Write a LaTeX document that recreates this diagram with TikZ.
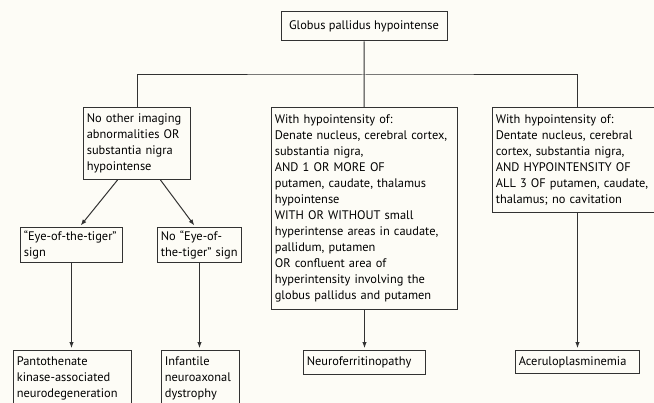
\documentclass[tikz,border=0pt]{standalone}
\usepackage{fontspec}
\setmainfont{PT Sans}
\usepackage{tikz}
\usetikzlibrary{arrows.meta}
\hyphenpenalty=10000
\exhyphenpenalty=10000
\definecolor{fondcol}{RGB}{253,252,246}
\definecolor{traitcol}{RGB}{50,50,50}
\tikzset{boite/.style={
    draw=traitcol, line width=0.75pt, anchor=north west, align=left,
    inner xsep=2.5pt, inner ysep=0pt, text=black,
    font=\fontsize{9.3}{12}\selectfont},
  lien/.style={draw=traitcol, line width=0.75pt},
  fleche/.style={lien, -{Latex[length=4.5pt,width=3.4pt]}, shorten >=1.5pt}}

\begin{document}
\begin{tikzpicture}[x=0.75pt,y=-0.75pt]
  % fond
\fill[fondcol] (0,0) rectangle (654,403);
\useasboundingbox (0,0) rectangle (654,403);

  % boites
\node[boite, anchor=center, align=center, minimum width=124.5pt, minimum height=21.75pt] (gp) at (364,26.5) {Globus pallidus hypointense};
\node[boite, text width=75.25pt, minimum height=54pt] (sn) at (83,107)
  {No other imaging\\abnormalities OR\\substantia nigra\\hypointense};
\node[boite, text width=134.5pt, minimum height=151.5pt] (un) at (271,107)
  {With hypointensity of:\\Denate nucleus, cerebral cortex,\\substantia nigra,\\AND 1 OR MORE OF\\putamen, caudate, thalamus\\hypointense\\WITH OR WITHOUT small\\hyperintense areas in caudate,\\pallidum, putamen\\OR confluent area of\\hyperintensity involving the\\globus pallidus and putamen};
\node[boite, text width=122.5pt, minimum height=78.75pt] (tous) at (492,107)
  {With hypointensity of:\\Dentate nucleus, cerebral\\cortex, substantia nigra,\\AND HYPOINTENSITY OF\\ALL 3 OF putamen, caudate,\\thalamus; no cavitation};
\node[boite, text width=71.5pt, minimum height=26.25pt] (tigre) at (20,227)
  {“Eye-of-the-tiger”\\sign};
\node[boite, text width=58pt, minimum height=26.25pt] (sanstigre) at (157,227)
  {No “Eye-of-\\the-tiger” sign};
\node[boite, text width=83.5pt, minimum height=41.25pt] (pkan) at (13,350)
  {Pantothenate\\kinase-associated\\neurodegeneration};
\node[boite, text width=53.5pt, minimum height=41.25pt] (inad) at (161,350)
  {Infantile\\neuroaxonal\\dystrophy};
\node[boite, text width=86.5pt, minimum height=18pt] (nfp) at (303,350) {Neuroferritinopathy};
\node[boite, text width=88pt, minimum height=17.25pt] (acp) at (515,350) {Aceruloplasminemia};

  % liens
\coordinate (barre) at (364,75);
\draw[lien] (gp) -- (un);
\draw[lien] (sn.north) |- (barre) -| (tous.north);
\draw[fleche] ([xshift=-14.6pt]sn.south) -- ([xshift=6pt]tigre.north);
\draw[fleche] ([xshift=17.6pt]sn.south) -- ([xshift=-3pt]sanstigre.north);
\foreach \a/\b in {tigre/pkan, sanstigre/inad, un/nfp, tous/acp}
{
  \draw[fleche] (\a.south) -- (\a.south |- \b.north);
}
\end{tikzpicture}
\end{document}
